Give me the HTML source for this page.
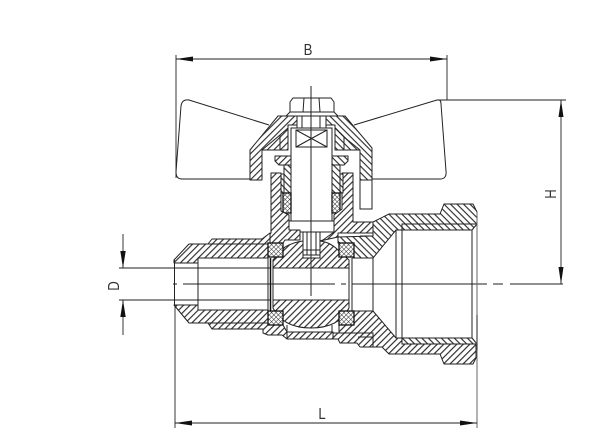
<!DOCTYPE html>
<html><head><meta charset="utf-8"><style>
html,body{margin:0;padding:0;background:#fff}
svg{display:block}
text{font-family:"Liberation Sans",sans-serif;font-size:15.500px;fill:#333}
.o{stroke:#222;stroke-width:1;fill:none}
.f{fill:url(#f);stroke:#222;stroke-width:1;stroke-linejoin:round}
.k{fill:url(#k);stroke:#222;stroke-width:1;stroke-linejoin:round}
.x{fill:url(#c);stroke:#111;stroke-width:1.3}
.w{fill:#fff;stroke:#222;stroke-width:1}
.d{stroke:#222;stroke-width:.9;fill:none}
.ar{fill:#111}
</style></head><body>
<svg width="615" height="446" viewBox="0 0 615 446" xmlns="http://www.w3.org/2000/svg">
<defs>
<pattern id="f" width="4.6" height="4.6" patternUnits="userSpaceOnUse" patternTransform="rotate(-45)"><rect width="4.6" height="4.6" fill="#fff"/><line x1="0" y1="0.600" x2="4.6" y2="0.600" stroke="#222" stroke-width="1.100"/></pattern>
<pattern id="k" width="4.6" height="4.6" patternUnits="userSpaceOnUse" patternTransform="rotate(45)"><rect width="4.6" height="4.6" fill="#fff"/><line x1="0" y1="0.600" x2="4.6" y2="0.600" stroke="#222" stroke-width="1.100"/></pattern>
<pattern id="c" width="3.2" height="3.2" patternUnits="userSpaceOnUse" patternTransform="rotate(45)"><rect width="3.2" height="3.2" fill="#fff"/><path d="M0 0H3.2M0 0V3.2" stroke="#222" stroke-width="1"/></pattern>
</defs>

<!-- handle wings -->
<path class="o" d="M269 125L189 100Q182 99 181 106L176 172Q176 179 182 179H250"/>
<path class="o" d="M354 125L437 100Q441 99 441 104L446 171Q447 179 440 179H372"/>

<!-- hex bolt -->
<path class="w" d="M290 112V102L293 98H331L334 102V112Z"/>
<path class="o" d="M304 98L303 112M319 98L320 112"/>
<path class="w" d="M286 116L290 112H334L338 116Z"/>
<path class="o" d="M297 116V128M302 116V128M320 116V128M326 116V128"/>

<!-- cap -->
<path class="f" d="M250 180V150L278 116H297V125H288V150H262V180Z"/>
<path class="k" d="M372 180V148L345 116H326V125H335V150H360V180Z"/>
<path class="o" d="M262 150L280 135L288 128M360 150L344 137L335 128M280 135V150M344 137V150"/>
<path class="w" d="M360 180H372V209H360Z"/>

<!-- stem -->
<path class="w" d="M291 128H332V221H291Z"/>
<path class="o" d="M296 130H327V147H296ZM296 130L327 147M327 130L296 147"/>
<path class="w" d="M289 221H334V232H289Z"/>

<!-- gland washers -->
<path class="f" d="M275 156H291V165H279L275 161Z"/>
<path class="k" d="M332 156H348V161L344 165H332Z"/>

<!-- packing strips -->
<path class="k" d="M284 165H291V193H284Z"/>
<path class="k" d="M332 165H340V193H332Z"/>
<rect class="x" x="283" y="193" width="8" height="20"/>
<rect class="x" x="332" y="193" width="8" height="20"/>

<!-- neck -->
<path class="f" d="M271 173H281V211L289 215V230H300V240H285L283 243H268V236L271 233Z"/>
<path class="f" d="M342 173H353V222H373V233H338V237L320 241L323 240L334 232V215L342 209Z"/>
<path class="k" d="M281 174H284V193H281Z"/>
<path class="k" d="M340 174H343V193H340Z"/>

<!-- left tail piece -->
<path class="f" d="M174 260L189 244H268V258H198V263H174Z"/>
<path class="f" d="M208 244L212 239H262L270 233V243H268V244Z"/>
<path class="f" d="M174 305H198V310H268V323H208H189Z"/>
<path class="o" d="M198 258V310M174.500 260V305"/>
<path class="f" d="M208 323L212 329H263V333L268 335H282L287 339V332L283 325H268V323Z"/>

<!-- right body -->
<path class="k" d="M373 222L389 214H440L444 204H473L477 212V224H402V230H396L373 258H353V243H338V237L373 236Z"/>
<path class="f" d="M353 311H373L396 338H402V344H476V358L473 364H444L440 354H389L382 347H373V333H339V325H354Z"/>
<path class="k" d="M402 224H477L472 230H402Z"/>
<path class="k" d="M402 338H472L477 344H402Z"/>

<!-- lower band -->
<path class="f" d="M287 332H333V339H287Z"/>
<path class="f" d="M333 333H373V347H360L357 343H340L338 339H333Z"/>
<path class="o" d="M287 325V332M332 325V333M360 233H373M360 236H373M358 337H373"/>

<!-- ball -->
<path class="f" d="M273 268V260L285 247Q294 242 303 241V258H320V241Q330 242 338 250L349 260V268Z"/>
<path class="f" d="M273 300H349V308Q339 328 311 328Q283 328 273 308Z"/>
<path class="w" d="M303 232H320V258H303Z"/>
<path class="o" d="M303 250H320M303 255H320M307 232V255M316 232V255"/>
<path class="o" d="M268 258V310M273 268V300M349 268V300"/>
<path d="M270.500 258V312" stroke="#111" stroke-width="1.500" fill="none"/>
<path d="M352 258V312" stroke="#222" stroke-width="1" fill="none"/>

<!-- seals -->
<rect class="x" x="268" y="243" width="15" height="14"/>
<rect class="x" x="339" y="243" width="15" height="14"/>
<rect class="x" x="268" y="311" width="15" height="14"/>
<rect class="x" x="339" y="311" width="15" height="14"/>

<!-- interior vertical lines -->
<path class="o" d="M373 258V311M396 230V338M402 224V344M472 230V338"/>
<path class="o" d="M311 86V296"/>

<!-- dimension lines -->
<path class="d" d="M119 268H270M119 300H270"/>
<path class="d" d="M173 284H177M183 284H335M341 284H346M352 284H487M493 284H503M510 284H563"/>
<path class="d" d="M176 55V178M447 55V100M437 100H566M175 305V428"/>
<path d="M477 212V428" stroke="#666" stroke-width="1"/>
<path d="M477 315V350" stroke="#555" stroke-width="1.300"/>
<path class="d" d="M176 59H447M175 423H477M561 100V284M123 234V268M123 300V335"/>

<!-- arrows -->
<path class="ar" d="M176 59L193 56.500V61.500ZM447 59L430 56.500V61.500ZM175 423L192 420.500V425.500ZM477 423L460 420.500V425.500ZM561 100L558.500 117H563.500ZM561 284L558.500 267H563.500ZM123 268L120.300 251H125.700ZM123 300L120.300 317H125.700Z"/>

<!-- labels -->
<text transform="translate(308 55) scale(.85 1)" text-anchor="middle">B</text>
<text transform="translate(322 419) scale(.85 1)" text-anchor="middle">L</text>
<text transform="translate(556 194) rotate(-90) scale(.85 1)" text-anchor="middle">H</text>
<text transform="translate(119 286) rotate(-90) scale(.85 1)" text-anchor="middle">D</text>
</svg>
</body></html>
